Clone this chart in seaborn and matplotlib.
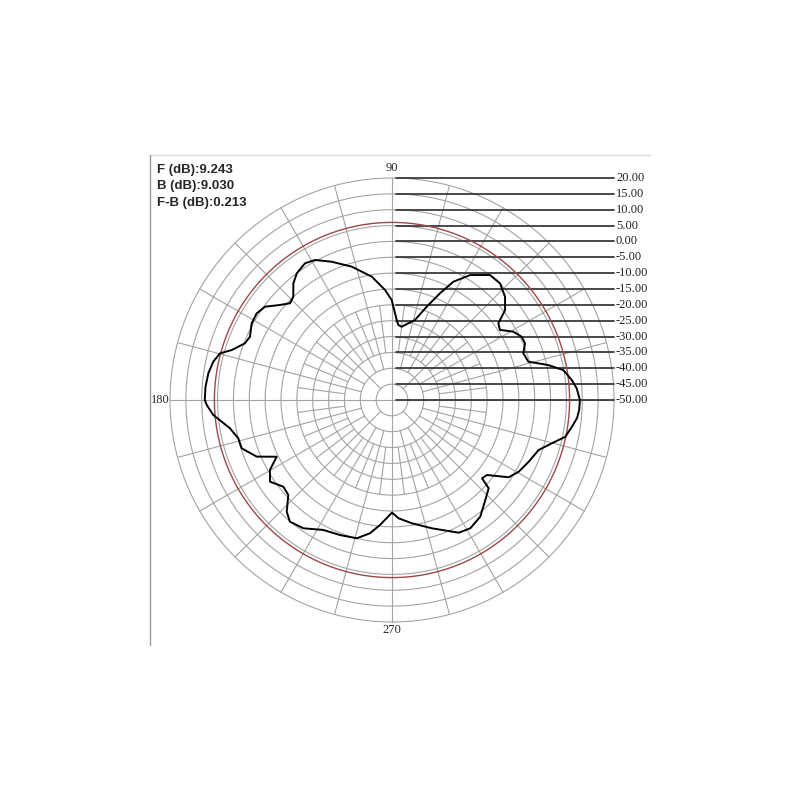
import numpy as np
import matplotlib
matplotlib.use("Agg")
import matplotlib.pyplot as plt
import seaborn as sns

# measured pattern (angle in degrees, gain in dB)
angles = [0, 3.6, 6.4, 9.9, 12.6, 15.7, 19.6, 23.1, 26.0, 29.4, 33.0, 35.8, 38.5, 42.4,
          47.2, 51.9, 58.0, 62.6, 65.8, 69.6, 74.0, 82.5, 85.2, 86.6, 90.2, 93.6, 99.3,
          106.8, 113.6, 118.8, 122.5, 126.9, 130.2, 133.7, 136.5, 139.7, 143.7, 147.4,
          151.3, 156.0, 158.9, 162.7, 164.8, 167.9, 171.7, 175.9, 180.0, 181.5, 184.8,
          189.9, 194.0, 197.8, 202.7, 206.2, 209.8, 213.8, 218.6, 222.5, 226.7, 230.0,
          235.3, 242.1, 249.0, 255.7, 260.6, 264.5, 270.0, 273.2, 279.2, 287.3, 296.7,
          301.4, 307.1, 313.0, 317.6, 319.0, 321.7, 326.5, 330.5, 335.7, 341.2, 344.9,
          348.0, 351.6, 354.4, 357.0, 360.0]
gain_db = [9.24, 8.36, 7.01, 4.83, 0.5, -5.35, -6.05, -4.41, -4.50, -6.11, -9.42, -8.66,
           -4.44, -1.72, 0.14, 0.08, -3.55, -8.00, -13.11, -18.63, -23.76, -26.7, -26.26,
           -24.74, -18.47, -15.25, -10.6, -6.08, -2.42, 0.39, 1.09, -0.02, -1.82, -4.95,
           -5.67, -3.68, -0.31, 0.67, 0.42, -0.97, -0.31, 2.94, 6.19, 7.64, 8.52, 8.95,
           9.03, 8.46, 6.54, 1.87, -0.05, -0.21, -3.74, -9.48, -5.64, -3.71, -6.17, -5.66,
           -1.6, 0.07, -0.81, -3.64, -4.38, -5.0, -7.40, -10.40, -14.5, -12.63, -10.62,
           -7.62, -3.17, -2.61, -3.87, -6.87, -8.72, -12.38, -11.84, -5.86, -4.09, -2.70,
           -1.13, 2.27, 5.85, 7.38, 8.62, 9.1, 9.24]

scale_levels = [20, 15, 10, 5, 0, -5, -10, -15, -20, -25, -30, -35, -40, -45, -50]
axis_labels = {90: "90", 180: "180", 270: "270"}
ref_level_db = 6.0

front_db = 9.243
back_db = 9.030
fb_db = 0.213

DB_MIN, DB_MAX = -50, 20
R = 222  # outer ring radius in pixels
GRID = "#a3a3a3"


def to_r(db):
    return (np.asarray(db, dtype=float) - DB_MIN) / (DB_MAX - DB_MIN) * R


sns.set_theme(style="white")
plt.rcParams['font.family'] = ['Liberation Sans', 'DejaVu Sans']

fig = plt.figure(figsize=(8, 8), dpi=100)
ax = fig.add_axes([0, 0, 1, 1])

# rings
t = np.linspace(0, 2 * np.pi, 721)
for lvl in range(DB_MIN + 5, DB_MAX + 1, 5):
    r = to_r(lvl)
    ax.plot(r * np.cos(t), r * np.sin(t), color=GRID, lw=0.8, zorder=1)

# spokes
for a in range(0, 360, 15):
    if a % 90 == 0:
        r0 = 0
    elif a % 45 == 0:
        r0 = to_r(-45)
    else:
        r0 = to_r(-40)
    c, s = np.cos(np.deg2rad(a)), np.sin(np.deg2rad(a))
    ax.plot([r0 * c, R * c], [r0 * s, R * s], color=GRID, lw=0.8, zorder=1)
for a in np.arange(7.5, 360, 15):
    r0, r1 = to_r(-35), to_r(-20)
    c, s = np.cos(np.deg2rad(a)), np.sin(np.deg2rad(a))
    ax.plot([r0 * c, r1 * c], [r0 * s, r1 * s], color=GRID, lw=0.8, zorder=1)

# scale lines with labels on the right
for lvl in scale_levels:
    y = to_r(lvl)
    ax.plot([4, R], [y, y], color="#3a3a3a", lw=1.3, zorder=2)
    ax.text(R + 2, y, f"{lvl:.2f}", ha="left", va="center", fontsize=9,
            family=["Liberation Serif", "DejaVu Serif"], color="#222222")

# reference circle
rr = to_r(ref_level_db)
ax.plot(rr * np.cos(t), rr * np.sin(t), color="#9c4848", lw=1.0, zorder=3)

# pattern
th = np.deg2rad(angles)
rp = to_r(gain_db)
sns.lineplot(x=rp * np.cos(th), y=rp * np.sin(th), sort=False, estimator=None,
             color="black", linewidth=1.4, ax=ax, zorder=4,
             solid_joinstyle="round", solid_capstyle="round")

# angle labels
serif = ["Liberation Serif", "DejaVu Serif"]
ax.text(0, R + 10, axis_labels[90], ha="center", va="center", fontsize=9, family=serif)
ax.text(-R - 10, 0, axis_labels[180], ha="center", va="center", fontsize=9, family=serif)
ax.text(0, -R - 8, axis_labels[270], ha="center", va="center", fontsize=9, family=serif)

# header text
ax.text(-235, 230, f"F (dB):{front_db:.3f}", ha="left", va="center", fontsize=9.5, weight="bold")
ax.text(-235, 213.5, f"B (dB):{back_db:.3f}", ha="left", va="center", fontsize=9.5, weight="bold")
ax.text(-235, 197, f"F-B (dB):{fb_db:.3f}", ha="left", va="center", fontsize=9.5, weight="bold")

# frame
ax.plot([-242, 258], [245, 245], color="#dadada", lw=1.0)
ax.plot([-242, -242], [245, -245], color="#9a9a9a", lw=1.0)

ax.set_xlim(-392, 408)
ax.set_ylim(-400, 400)
ax.axis("off")

fig.savefig("out.png", dpi=100, facecolor="white")
